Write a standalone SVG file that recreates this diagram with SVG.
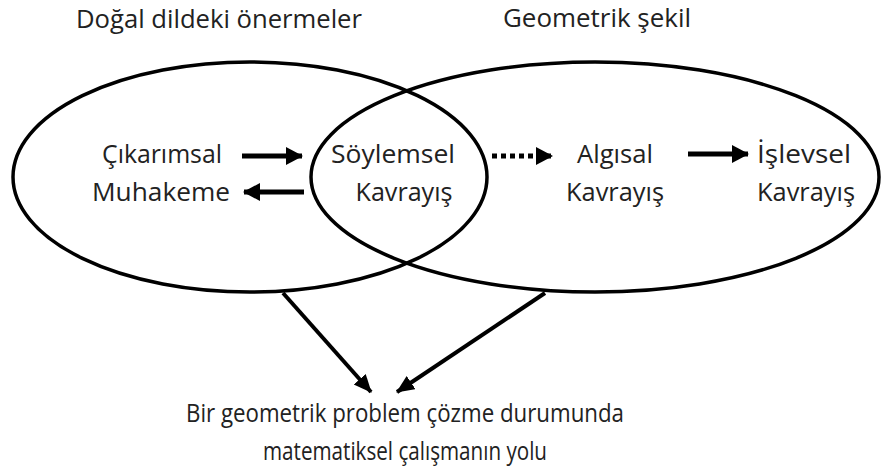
<svg xmlns="http://www.w3.org/2000/svg" width="881" height="470" viewBox="0 0 881 470">
<defs>
<style>
.t{font-family:"Open Sans","Liberation Sans",sans-serif;font-size:25px;fill:#222;text-anchor:middle}
.e{fill:none;stroke:#000;stroke-width:3.5}
.a{stroke:#000;stroke-width:5;fill:none}
.b{stroke:#000;stroke-width:4;fill:none}
</style>
<marker id="h" markerUnits="userSpaceOnUse" markerWidth="18" markerHeight="20" refX="16" refY="9" orient="auto">
<path d="M0,0 L17,9 L0,18 Z" fill="#000"/>
</marker>
<marker id="h2" markerUnits="userSpaceOnUse" markerWidth="20" markerHeight="20" refX="17" refY="8" orient="auto">
<path d="M0,0 L18,8 L0,16 Z" fill="#000"/>
</marker>
</defs>
<rect width="881" height="470" fill="#fff"/>
<g id="dogal">
<ellipse class="e" cx="250" cy="177" rx="237" ry="115"/>
<text class="t" x="219" y="28" textLength="286" lengthAdjust="spacingAndGlyphs">Doğal dildeki önermeler</text>
</g>
<g id="geometrik">
<ellipse class="e" cx="595" cy="177" rx="284" ry="115"/>
<text class="t" x="597" y="27" textLength="188" lengthAdjust="spacingAndGlyphs">Geometrik şekil</text>
</g>
<g id="cikarimsal">
<text class="t" x="162" y="163" textLength="120" lengthAdjust="spacingAndGlyphs">Çıkarımsal</text>
<text class="t" x="161" y="201" textLength="138" lengthAdjust="spacingAndGlyphs">Muhakeme</text>
</g>
<g id="soylemsel">
<text class="t" x="393" y="163" textLength="124" lengthAdjust="spacingAndGlyphs">Söylemsel</text>
<text class="t" x="404" y="201" textLength="97" lengthAdjust="spacingAndGlyphs">Kavrayış</text>
</g>
<g id="algisal">
<text class="t" x="615" y="163" textLength="76" lengthAdjust="spacingAndGlyphs">Algısal</text>
<text class="t" x="615" y="201" textLength="98" lengthAdjust="spacingAndGlyphs">Kavrayış</text>
</g>
<g id="islevsel">
<text class="t" x="804" y="163" textLength="94" lengthAdjust="spacingAndGlyphs">İşlevsel</text>
<text class="t" x="806" y="201" textLength="98" lengthAdjust="spacingAndGlyphs">Kavrayış</text>
</g>
<g id="sonuc">
<text class="t" x="405" y="422" textLength="438" lengthAdjust="spacingAndGlyphs">Bir geometrik problem çözme durumunda</text>
<text class="t" x="405" y="460" textLength="284" lengthAdjust="spacingAndGlyphs">matematiksel çalışmanın yolu</text>
</g>
<g id="connectors">
<line class="a" x1="242" y1="156" x2="302" y2="156" marker-end="url(#h)"/>
<line class="a" x1="304" y1="192" x2="244" y2="192" marker-end="url(#h)"/>
<line class="a" x1="492" y1="156" x2="552" y2="156" stroke-dasharray="5 4" marker-end="url(#h)"/>
<line class="a" x1="688" y1="154" x2="748" y2="154" marker-end="url(#h)"/>
<line class="b" x1="283" y1="293" x2="371" y2="392" marker-end="url(#h2)"/>
<line class="b" x1="545" y1="293" x2="397" y2="392" marker-end="url(#h2)"/>
</g>
</svg>
